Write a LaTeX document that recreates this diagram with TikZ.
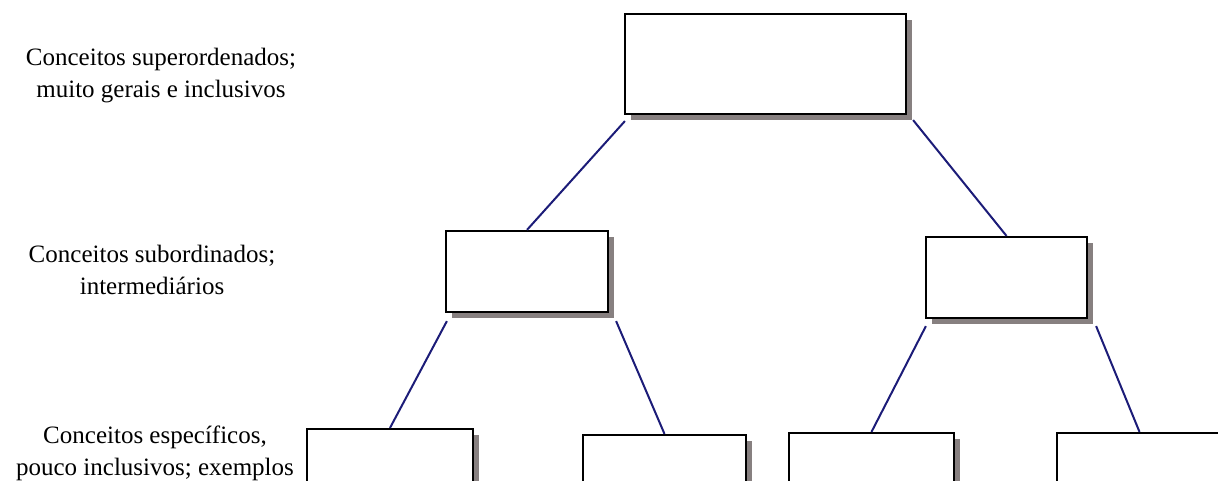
\documentclass[tikz,border=0pt]{standalone}
\usepackage{fontspec}
\setmainfont{Liberation Serif}
\usetikzlibrary{shadows}

\begin{document}
\begin{tikzpicture}[
            x=1pt, y=-1pt,
            lbl/.style={font=\fontsize{25}{32}\selectfont, align=center},
            box/.style={draw=black, line width=2.2pt, fill=white, inner sep=0pt,
                drop shadow={shadow xshift=6pt, shadow yshift=-6pt, fill={rgb,255:red,135;green,128;blue,128}, opacity=1}},
            link/.style={draw={rgb,255:red,28;green,28;blue,120}, line width=2pt},
        ]
        \useasboundingbox (0, 0) rectangle (1218, 481);
        \clip (0, 0) rectangle (1218, 481);
        % concept boxes, sizes measured from the reference
        \node[box, minimum width=281pt, minimum height=100pt] (top) at (765.5, 64) {};
        \node[box, minimum width=162pt, minimum height=81pt] (midL) at (527, 271.5) {};
        \node[box, minimum width=161pt, minimum height=81pt] (midR) at (1006.5, 277.5) {};
        \node[box, minimum width=166pt, minimum height=60pt] (lowA) at (390, 459) {};
        \node[box, minimum width=163pt, minimum height=60pt] (lowB) at (664.5, 465) {};
        \node[box, minimum width=165pt, minimum height=60pt] (lowC) at (871.5, 463) {};
        \node[box, minimum width=165pt, minimum height=60pt] (lowD) at (1139.5, 463) {};
        % level labels
        \node[lbl] (lvlTop) at (161, 76) {Conceitos superordenados;\\muito gerais e inclusivos};
        \node[lbl] (lvlMid) at (152, 270) {Conceitos subordinados;\\intermediários};
        \node[lbl] (lvlLow) at (155, 453) {Conceitos específicos,\\pouco inclusivos; exemplos};
        % connectors
        \draw[link] ([xshift=1pt, yshift=-6pt]top.south west) -- (midL.north);
        \draw[link] ([xshift=6pt, yshift=-5pt]top.south east) -- (midR.north);
        \draw[link] ([xshift=2pt, yshift=-8pt]midL.south west) -- (lowA.north);
        \draw[link] ([xshift=7pt, yshift=-8pt]midL.south east) -- (lowB.north);
        \draw[link] ([xshift=1pt, yshift=-7pt]midR.south west) -- (lowC.north);
        \draw[link] ([xshift=8pt, yshift=-7pt]midR.south east) -- (lowD.north);
    \end{tikzpicture}
\end{document}
